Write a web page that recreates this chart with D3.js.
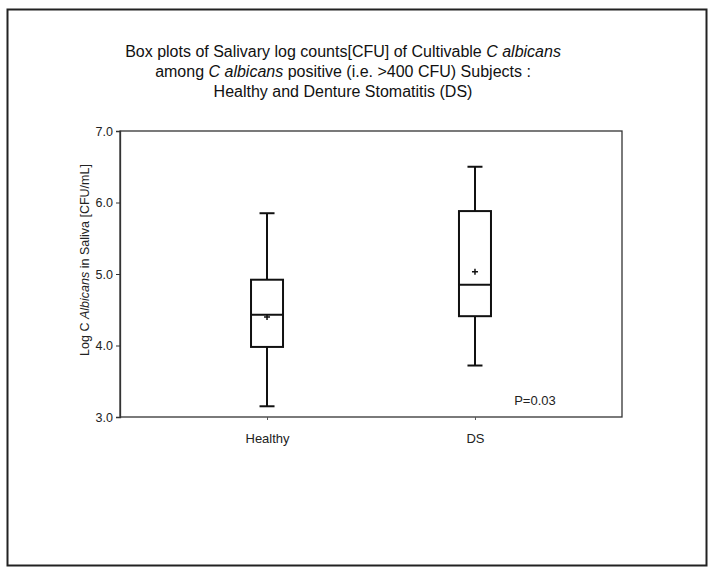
<!DOCTYPE html>
<html><head><meta charset="utf-8">
<script src="https://cdn.jsdelivr.net/npm/d3@7"></script>
<style>body{margin:0;background:#fff;font-family:"Liberation Sans",Arial,sans-serif;}</style>
</head><body>
<svg id="c" width="713" height="574"></svg>
<script>
const categories = ["Healthy", "DS"];
const whiskerLow = [3.15, 3.72];
const q1 = [3.98, 4.41];
const median = [4.43, 4.85];
const q3 = [4.92, 5.88];
const whiskerHigh = [5.85, 6.50];
const means = [4.40, 5.03];
const yTicks = [3, 4, 5, 6, 7];
const pText = "P=0.03";

const svg = d3.select("#c");
const font = "'Liberation Sans', Arial, sans-serif";
const L = 120, R = 622, T = 131, B = 417;

// outer frame
svg.append("rect").attr("x", 7.5).attr("y", 9.5).attr("width", 699).attr("height", 556)
  .attr("fill", "none").attr("stroke", "#222").attr("stroke-width", 2);

const y = d3.scaleLinear().domain([3, 7]).range([B, T]);
const x = d3.scalePoint().domain(categories).range([L, R]).padding(0.707);

// plot frame
svg.append("rect").attr("x", L).attr("y", T).attr("width", R - L).attr("height", B - T)
  .attr("fill", "none").attr("stroke", "#333").attr("stroke-width", 1.3);

// y axis
const ya = svg.append("g").attr("transform", `translate(${L},0)`)
  .call(d3.axisLeft(y).tickValues(yTicks).tickFormat(d3.format(".1f")).tickSize(4).tickPadding(3));
ya.select(".domain").attr("stroke", "#333").attr("stroke-width", 1.3);
ya.selectAll("line").attr("stroke", "#333");
ya.selectAll("text").attr("font-family", font).attr("font-size", 12.5).attr("fill", "#222");

// x axis
const xa = svg.append("g").attr("transform", `translate(0,${B})`)
  .call(d3.axisBottom(x).tickSize(3).tickPadding(14));
xa.select(".domain").remove();
xa.selectAll("line").attr("stroke", "#555");
xa.selectAll("text").attr("font-family", font).attr("font-size", 13).attr("fill", "#222");

// boxes
const bw = 32, cw = 15;
categories.forEach((c, i) => {
  const cx = x(c);
  const g = svg.append("g").attr("stroke", "#111").attr("stroke-width", 2).attr("fill", "none");
  g.append("line").attr("x1", cx).attr("x2", cx).attr("y1", y(whiskerHigh[i])).attr("y2", y(q3[i]));
  g.append("line").attr("x1", cx).attr("x2", cx).attr("y1", y(q1[i])).attr("y2", y(whiskerLow[i]));
  g.append("line").attr("x1", cx - cw / 2).attr("x2", cx + cw / 2).attr("y1", y(whiskerHigh[i])).attr("y2", y(whiskerHigh[i]));
  g.append("line").attr("x1", cx - cw / 2).attr("x2", cx + cw / 2).attr("y1", y(whiskerLow[i])).attr("y2", y(whiskerLow[i]));
  g.append("rect").attr("x", cx - bw / 2).attr("y", y(q3[i])).attr("width", bw).attr("height", y(q1[i]) - y(q3[i]));
  g.append("line").attr("x1", cx - bw / 2).attr("x2", cx + bw / 2).attr("y1", y(median[i])).attr("y2", y(median[i]));
  // mean +
  const my = y(means[i]);
  g.append("path").attr("d", `M${cx - 3},${my}H${cx + 3}M${cx},${my - 3}V${my + 3}`).attr("stroke-width", 1.5);
});

// p value
svg.append("text").attr("x", 535).attr("y", 405).attr("text-anchor", "middle")
  .attr("font-family", font).attr("font-size", 13).attr("fill", "#222").text(pText);

// y label
const yl = svg.append("text").attr("transform", `translate(89,${(T + B) / 2 - 14}) rotate(-90)`)
  .attr("text-anchor", "middle").attr("font-family", font).attr("font-size", 12.5).attr("fill", "#222");
yl.append("tspan").text("Log C ");
yl.append("tspan").attr("font-style", "italic").text("Albicans");
yl.append("tspan").text(" in Saliva [CFU/mL]");

// title
const tx = 343;
const title = [
  [["Box plots of Salivary log counts[CFU] of Cultivable ", false], ["C albicans", true]],
  [["among ", false], ["C albicans", true], [" positive (i.e. >400 CFU) Subjects :", false]],
  [["Healthy and Denture Stomatitis (DS)", false]]
];
title.forEach((line, k) => {
  const t = svg.append("text").attr("x", tx).attr("y", 57 + k * 20).attr("text-anchor", "middle")
    .attr("font-family", font).attr("font-size", 16).attr("fill", "#111");
  line.forEach(([s, it]) => t.append("tspan").attr("font-style", it ? "italic" : "normal").text(s));
});
</script>
</body></html>
